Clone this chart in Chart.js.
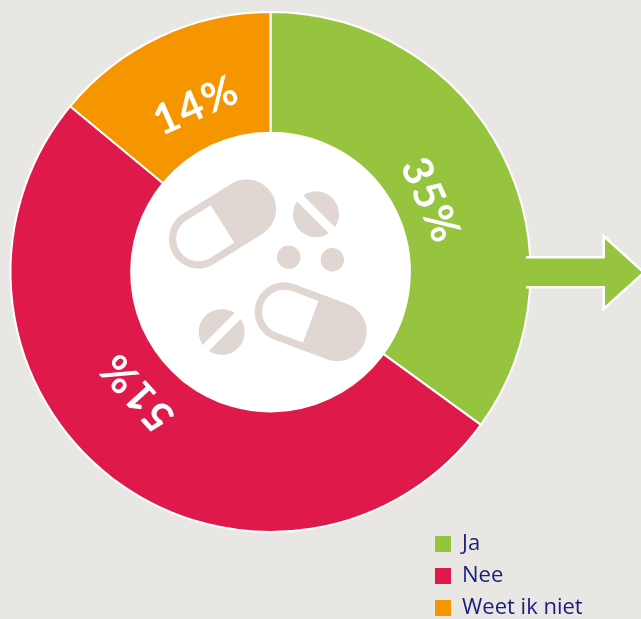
<!DOCTYPE html>
<html>
<head>
<meta charset="utf-8">
<title>Ja / Nee / Weet ik niet</title>
<script src="https://cdn.jsdelivr.net/npm/chart.js@4"></script>
<style>
    html, body { margin: 0; padding: 0; background: #e8e7e3; overflow: hidden; }
    canvas { display: block; }
</style>
</head>
<body>
<canvas id="chart" width="641" height="619"></canvas>
<script>
const categories = ['Ja', 'Nee', 'Weet ik niet'];
const shares = [35, 51, 14];
const sliceColors = ['#96c43e', '#df1a4a', '#f59500'];

// where the percentages sit: degrees clockwise from the top, px from the centre
const labelAngles = [66, 228, -24];
const labelRadii = [175, 179, 182];

const pillColor = '#e0d6d2';

// Fill the hole and draw the pills in it (offsets are from the ring centre)
function capsule(ctx, x, y, degrees, halfLen, r, wall) {
    ctx.save();
    ctx.translate(x, y);
    ctx.rotate(degrees * Math.PI / 180);
    ctx.fillStyle = pillColor;
    ctx.beginPath();
    ctx.arc(halfLen, 0, r, -Math.PI / 2, Math.PI / 2);
    ctx.arc(-halfLen, 0, r, Math.PI / 2, Math.PI * 1.5);
    ctx.closePath();
    ctx.fill();
    ctx.fillStyle = '#fff';
    ctx.beginPath();
    ctx.moveTo(0, -(r - wall));
    ctx.lineTo(0, r - wall);
    ctx.lineTo(-halfLen, r - wall);
    ctx.arc(-halfLen, 0, r - wall, Math.PI / 2, Math.PI * 1.5);
    ctx.closePath();
    ctx.fill();
    ctx.restore();
}

function tablet(ctx, x, y, r, degrees) {
    ctx.save();
    ctx.translate(x, y);
    ctx.fillStyle = pillColor;
    ctx.beginPath();
    ctx.arc(0, 0, r, 0, Math.PI * 2);
    ctx.fill();
    ctx.rotate(degrees * Math.PI / 180);
    ctx.fillStyle = '#fff';
    ctx.fillRect(-r - 2, -4.3, r * 2 + 4, 8.6);
    ctx.restore();
}

const holePlugin = {
    id: 'hole',
    afterDatasetsDraw(chart) {
        const ctx = chart.ctx;
        const arc = chart.getDatasetMeta(0).data[0];
        ctx.save();
        ctx.fillStyle = '#fff';
        ctx.beginPath();
        ctx.arc(arc.x, arc.y, arc.innerRadius, 0, Math.PI * 2);
        ctx.fill();
        capsule(ctx, arc.x - 48, arc.y - 48, -32, 28.5, 29.5, 7.3);
        capsule(ctx, arc.x + 40.2, arc.y + 49.7, 20.4, 28.3, 29.5, 7.3);
        tablet(ctx, arc.x + 45.5, arc.y - 57.7, 23, 45);
        tablet(ctx, arc.x - 48.8, arc.y + 60, 23, -45);
        ctx.fillStyle = pillColor;
        [[18.2, -14.7], [61.8, -12.3]].forEach(p => {
            ctx.beginPath();
            ctx.arc(arc.x + p[0], arc.y + p[1], 11.7, 0, Math.PI * 2);
            ctx.fill();
        });
        ctx.restore();
    }
};

// Arrow leaving the green slice
const arrowPlugin = {
    id: 'arrow',
    afterDatasetsDraw(chart) {
        const ctx = chart.ctx;
        const arc = chart.getDatasetMeta(0).data[0];
        const x = arc.x, y = arc.y;
        const pts = [[255.5, -13.5], [334.5, -13.5], [334.5, -33], [371.5, 0.5], [334.5, 34], [334.5, 14], [255.5, 14]];
        ctx.save();
        ctx.beginPath();
        pts.forEach((p, i) => i ? ctx.lineTo(x + p[0], y + p[1]) : ctx.moveTo(x + p[0], y + p[1]));
        ctx.strokeStyle = '#fff';
        ctx.lineWidth = 5;
        ctx.lineJoin = 'miter';
        ctx.stroke();
        ctx.closePath();
        ctx.fillStyle = sliceColors[0];
        ctx.fill();
        ctx.restore();
    }
};

const percentPlugin = {
    id: 'percentLabels',
    afterDatasetsDraw(chart) {
        const ctx = chart.ctx;
        const arc = chart.getDatasetMeta(0).data[0];
        shares.forEach((v, i) => {
            const a = labelAngles[i] * Math.PI / 180;
            ctx.save();
            ctx.translate(arc.x + Math.sin(a) * labelRadii[i], arc.y - Math.cos(a) * labelRadii[i]);
            ctx.rotate(a);
            ctx.fillStyle = '#fff';
            ctx.font = '700 42px Lato';
            ctx.letterSpacing = '2px';
            ctx.textAlign = 'center';
            ctx.textBaseline = 'middle';
            ctx.fillText(v + '%', 0, 0);
            ctx.restore();
        });
    }
};

// Put the legend in the bottom right corner
// (bottom runs past the canvas, otherwise the last row wraps to a new column)
const legendSpot = {
    id: 'legendSpot',
    afterLayout(chart) {
        chart.legend.left = 425;
        chart.legend.top = 523;
        chart.legend.right = 641;
        chart.legend.bottom = 680;
    }
};

new Chart(document.getElementById('chart'), {
    type: 'doughnut',
    data: {
        labels: categories,
        datasets: [{
            data: shares,
            backgroundColor: sliceColors,
            borderColor: '#fff',
            borderWidth: 2,
            borderAlign: 'center'
        }]
    },
    options: {
        responsive: false,
        animation: false,
        cutout: '53.6%',
        radius: 260,
        layout: { padding: { left: 0, top: 0, right: 100, bottom: 75 } },
        plugins: {
            tooltip: { enabled: false },
            legend: {
                position: 'chartArea',
                align: 'start',
                labels: {
                    boxWidth: 16,
                    boxHeight: 16,
                    padding: 10,
                    color: '#1b1c7c',
                    font: { family: 'Open Sans', size: 22 },
                    generateLabels: chart => chart.data.labels.map((text, i) => ({
                        text: text,
                        fillStyle: sliceColors[i],
                        strokeStyle: sliceColors[i],
                        lineWidth: 0,
                        fontColor: '#1b1c7c',
                        index: i
                    }))
                }
            }
        }
    },
    plugins: [arrowPlugin, holePlugin, percentPlugin, legendSpot]
});
</script>
</body>
</html>
